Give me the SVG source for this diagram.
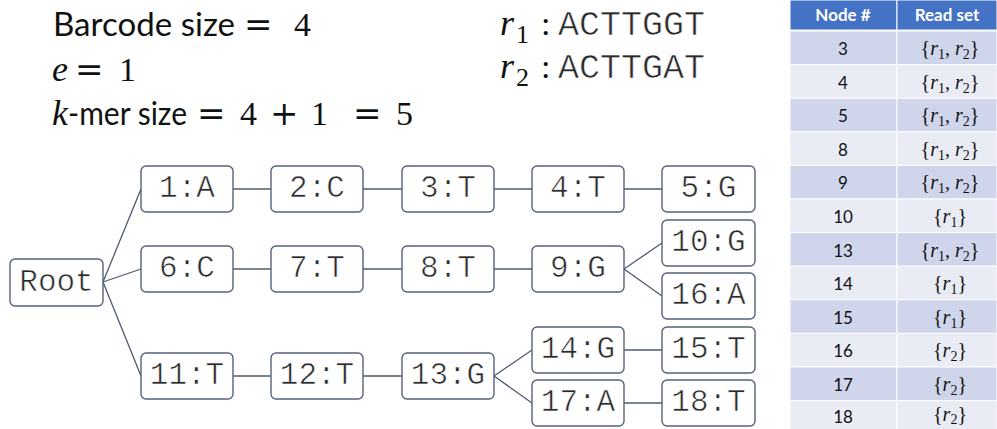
<svg xmlns="http://www.w3.org/2000/svg" width="997" height="429" viewBox="0 0 997 429">
  <style>
    .node rect { fill: #ffffff; stroke: #56627a; stroke-width: 1.4; }
    .node text { font-family: "Liberation Mono", "DejaVu Sans Mono", monospace; font-size: 31px; fill: #2a2a2a; stroke: #ffffff; stroke-width: 0.6; text-anchor: middle; }
    .edges line { stroke: #4e5a70; stroke-width: 1.3; }
    .lbl { font-family: Lato, "Liberation Sans", sans-serif; font-size: 33px; fill: #111111; }
    .m { font-family: "Liberation Serif", "DejaVu Serif", serif; font-size: 34px; fill: #111111; }
    .mi { font-family: "Liberation Serif", "DejaVu Serif", serif; font-style: italic; font-size: 36px; fill: #111111; }
    .op { font-family: "DejaVu Serif", "Liberation Serif", serif; font-size: 34px; fill: #111111; }
    .seq { font-family: "Liberation Mono", "DejaVu Sans Mono", monospace; font-size: 35px; fill: #2a2a2a; stroke: #ffffff; stroke-width: 0.6; }
    .th { font-family: Lato, "Liberation Sans", sans-serif; font-weight: bold; font-size: 17px; fill: #ffffff; text-anchor: middle; }
    .td { font-family: Lato, "Liberation Sans", sans-serif; font-size: 17px; fill: #111111; text-anchor: middle; }
    .rs { font-family: "Liberation Serif", "DejaVu Serif", serif; font-size: 20px; fill: #111111; text-anchor: middle; }
    .rs .i { font-style: italic; }
    .rs .s { font-size: 14px; }
    .dark { fill: #cfd5ea; stroke: #ffffff; stroke-width: 1; }
    .light { fill: #e9ebf5; stroke: #ffffff; stroke-width: 1; }
  </style>

  <!-- parameters -->
  <g id="params">
    <text class="lbl" x="53" y="36" textLength="182" lengthAdjust="spacingAndGlyphs">Barcode size</text>
    <text class="op" x="244" y="36">=</text>
    <text class="m" x="294" y="36">4</text>

    <text class="mi" x="52" y="81">e</text>
    <text class="op" x="75" y="81">=</text>
    <text class="m" x="119" y="81">1</text>

    <text class="mi" x="52" y="125">k</text>
    <text class="lbl" x="68" y="125" textLength="119" lengthAdjust="spacingAndGlyphs">-mer size</text>
    <text class="op" x="197" y="125">=</text>
    <text class="m" x="240" y="125">4</text>
    <text class="op" x="270" y="125">+</text>
    <text class="m" x="311" y="125">1</text>
    <text class="op" x="353" y="125">=</text>
    <text class="m" x="396" y="125">5</text>
  </g>

  <!-- reads -->
  <g id="reads">
    <text class="mi" x="500" y="35">r</text>
    <text class="m" x="516" y="43" style="font-size:26px">1</text>
    <text class="m" x="541" y="35">:</text>
    <text class="seq" x="558" y="35">ACTTGGT</text>

    <text class="mi" x="500" y="78">r</text>
    <text class="m" x="516" y="86" style="font-size:26px">2</text>
    <text class="m" x="541" y="78">:</text>
    <text class="seq" x="558" y="78">ACTTGAT</text>
  </g>

  <!-- connectors -->
  <g class="edges" id="edges">
    <line x1="103" y1="282" x2="141" y2="189"/>
    <line x1="103" y1="282" x2="141" y2="269"/>
    <line x1="103" y1="282" x2="141" y2="376"/>
    <line x1="233" y1="189" x2="271" y2="189"/>
    <line x1="363" y1="189" x2="402" y2="189"/>
    <line x1="494" y1="189" x2="532" y2="189"/>
    <line x1="624" y1="189" x2="662" y2="189"/>
    <line x1="233" y1="269" x2="271" y2="269"/>
    <line x1="363" y1="269" x2="402" y2="269"/>
    <line x1="494" y1="269" x2="532" y2="269"/>
    <line x1="624" y1="269" x2="662" y2="243"/>
    <line x1="624" y1="269" x2="662" y2="296"/>
    <line x1="233" y1="376" x2="271" y2="376"/>
    <line x1="363" y1="376" x2="402" y2="376"/>
    <line x1="494" y1="376" x2="532" y2="350"/>
    <line x1="494" y1="376" x2="532" y2="403"/>
    <line x1="624" y1="350" x2="662" y2="350"/>
    <line x1="624" y1="403" x2="662" y2="403"/>
  </g>

  <!-- nodes -->
  <g class="node" id="root"><rect x="10" y="259" width="93" height="47" rx="5"/><text x="56.5" y="291">Root</text></g>
  <g class="node" id="n1"><rect x="141" y="166" width="92" height="46" rx="5"/><text x="187" y="197">1:A</text></g>
  <g class="node" id="n2"><rect x="271" y="166" width="92" height="46" rx="5"/><text x="317" y="197">2:C</text></g>
  <g class="node" id="n3"><rect x="402" y="166" width="92" height="46" rx="5"/><text x="448" y="197">3:T</text></g>
  <g class="node" id="n4"><rect x="532" y="166" width="92" height="46" rx="5"/><text x="578" y="197">4:T</text></g>
  <g class="node" id="n5"><rect x="662" y="166" width="93" height="46" rx="5"/><text x="708.5" y="197">5:G</text></g>
  <g class="node" id="n6"><rect x="141" y="246" width="92" height="46" rx="5"/><text x="187" y="277">6:C</text></g>
  <g class="node" id="n7"><rect x="271" y="246" width="92" height="46" rx="5"/><text x="317" y="277">7:T</text></g>
  <g class="node" id="n8"><rect x="402" y="246" width="92" height="46" rx="5"/><text x="448" y="277">8:T</text></g>
  <g class="node" id="n9"><rect x="532" y="246" width="92" height="46" rx="5"/><text x="578" y="277">9:G</text></g>
  <g class="node" id="n10"><rect x="662" y="220" width="93" height="46" rx="5"/><text x="708.5" y="251">10:G</text></g>
  <g class="node" id="n16"><rect x="662" y="273" width="93" height="46" rx="5"/><text x="708.5" y="304">16:A</text></g>
  <g class="node" id="n11"><rect x="141" y="353" width="92" height="46" rx="5"/><text x="187" y="384">11:T</text></g>
  <g class="node" id="n12"><rect x="271" y="353" width="92" height="46" rx="5"/><text x="317" y="384">12:T</text></g>
  <g class="node" id="n13"><rect x="402" y="353" width="92" height="46" rx="5"/><text x="448" y="384">13:G</text></g>
  <g class="node" id="n14"><rect x="532" y="327" width="92" height="46" rx="5"/><text x="578" y="358">14:G</text></g>
  <g class="node" id="n17"><rect x="532" y="380" width="92" height="46" rx="5"/><text x="578" y="411">17:A</text></g>
  <g class="node" id="n15"><rect x="662" y="327" width="93" height="46" rx="5"/><text x="708.5" y="358">15:T</text></g>
  <g class="node" id="n18"><rect x="662" y="380" width="93" height="46" rx="5"/><text x="708.5" y="411">18:T</text></g>

  <!-- read-set table -->
  <g id="table">
    <rect x="790" y="0" width="107" height="30" fill="#4472c4" stroke="#ffffff" stroke-width="1"/>
    <rect x="897" y="0" width="100" height="30" fill="#4472c4" stroke="#ffffff" stroke-width="1"/>
    <text class="th" x="843" y="21">Node #</text>
    <text class="th" x="947" y="21">Read set</text>

    <rect class="dark"  x="790" y="31.0"  width="107" height="33.6"/><rect class="dark"  x="897" y="31.0"  width="100" height="33.6"/>
    <rect class="light" x="790" y="64.6"  width="107" height="33.6"/><rect class="light" x="897" y="64.6"  width="100" height="33.6"/>
    <rect class="dark"  x="790" y="98.2"  width="107" height="33.6"/><rect class="dark"  x="897" y="98.2"  width="100" height="33.6"/>
    <rect class="light" x="790" y="131.8" width="107" height="33.6"/><rect class="light" x="897" y="131.8" width="100" height="33.6"/>
    <rect class="dark"  x="790" y="165.4" width="107" height="33.6"/><rect class="dark"  x="897" y="165.4" width="100" height="33.6"/>
    <rect class="light" x="790" y="199.0" width="107" height="33.6"/><rect class="light" x="897" y="199.0" width="100" height="33.6"/>
    <rect class="dark"  x="790" y="232.6" width="107" height="33.6"/><rect class="dark"  x="897" y="232.6" width="100" height="33.6"/>
    <rect class="light" x="790" y="266.2" width="107" height="33.6"/><rect class="light" x="897" y="266.2" width="100" height="33.6"/>
    <rect class="dark"  x="790" y="299.8" width="107" height="33.6"/><rect class="dark"  x="897" y="299.8" width="100" height="33.6"/>
    <rect class="light" x="790" y="333.4" width="107" height="33.6"/><rect class="light" x="897" y="333.4" width="100" height="33.6"/>
    <rect class="dark"  x="790" y="367.0" width="107" height="33.6"/><rect class="dark"  x="897" y="367.0" width="100" height="33.6"/>
    <rect class="light" x="790" y="400.6" width="107" height="33.6"/><rect class="light" x="897" y="400.6" width="100" height="33.6"/>

    <text class="td" x="843" y="55">3</text>
    <text class="td" x="843" y="88.6">4</text>
    <text class="td" x="843" y="122.2">5</text>
    <text class="td" x="843" y="155.8">8</text>
    <text class="td" x="843" y="189.4">9</text>
    <text class="td" x="843" y="223">10</text>
    <text class="td" x="843" y="256.6">13</text>
    <text class="td" x="843" y="290.2">14</text>
    <text class="td" x="843" y="323.8">15</text>
    <text class="td" x="843" y="357.4">16</text>
    <text class="td" x="843" y="391">17</text>
    <text class="td" x="843" y="423">18</text>

    <text class="rs" x="950" y="55">{<tspan class="i">r</tspan><tspan class="s" dy="4">1</tspan><tspan dy="-4">, </tspan><tspan class="i">r</tspan><tspan class="s" dy="4">2</tspan><tspan dy="-4">}</tspan></text>
    <text class="rs" x="950" y="88.6">{<tspan class="i">r</tspan><tspan class="s" dy="4">1</tspan><tspan dy="-4">, </tspan><tspan class="i">r</tspan><tspan class="s" dy="4">2</tspan><tspan dy="-4">}</tspan></text>
    <text class="rs" x="950" y="122.2">{<tspan class="i">r</tspan><tspan class="s" dy="4">1</tspan><tspan dy="-4">, </tspan><tspan class="i">r</tspan><tspan class="s" dy="4">2</tspan><tspan dy="-4">}</tspan></text>
    <text class="rs" x="950" y="155.8">{<tspan class="i">r</tspan><tspan class="s" dy="4">1</tspan><tspan dy="-4">, </tspan><tspan class="i">r</tspan><tspan class="s" dy="4">2</tspan><tspan dy="-4">}</tspan></text>
    <text class="rs" x="950" y="189.4">{<tspan class="i">r</tspan><tspan class="s" dy="4">1</tspan><tspan dy="-4">, </tspan><tspan class="i">r</tspan><tspan class="s" dy="4">2</tspan><tspan dy="-4">}</tspan></text>
    <text class="rs" x="950" y="223">{<tspan class="i">r</tspan><tspan class="s" dy="4">1</tspan><tspan dy="-4">}</tspan></text>
    <text class="rs" x="950" y="256.6">{<tspan class="i">r</tspan><tspan class="s" dy="4">1</tspan><tspan dy="-4">, </tspan><tspan class="i">r</tspan><tspan class="s" dy="4">2</tspan><tspan dy="-4">}</tspan></text>
    <text class="rs" x="950" y="290.2">{<tspan class="i">r</tspan><tspan class="s" dy="4">1</tspan><tspan dy="-4">}</tspan></text>
    <text class="rs" x="950" y="323.8">{<tspan class="i">r</tspan><tspan class="s" dy="4">1</tspan><tspan dy="-4">}</tspan></text>
    <text class="rs" x="950" y="357.4">{<tspan class="i">r</tspan><tspan class="s" dy="4">2</tspan><tspan dy="-4">}</tspan></text>
    <text class="rs" x="950" y="391">{<tspan class="i">r</tspan><tspan class="s" dy="4">2</tspan><tspan dy="-4">}</tspan></text>
    <text class="rs" x="950" y="421">{<tspan class="i">r</tspan><tspan class="s" dy="3">2</tspan><tspan dy="-3">}</tspan></text>
  </g>
</svg>
